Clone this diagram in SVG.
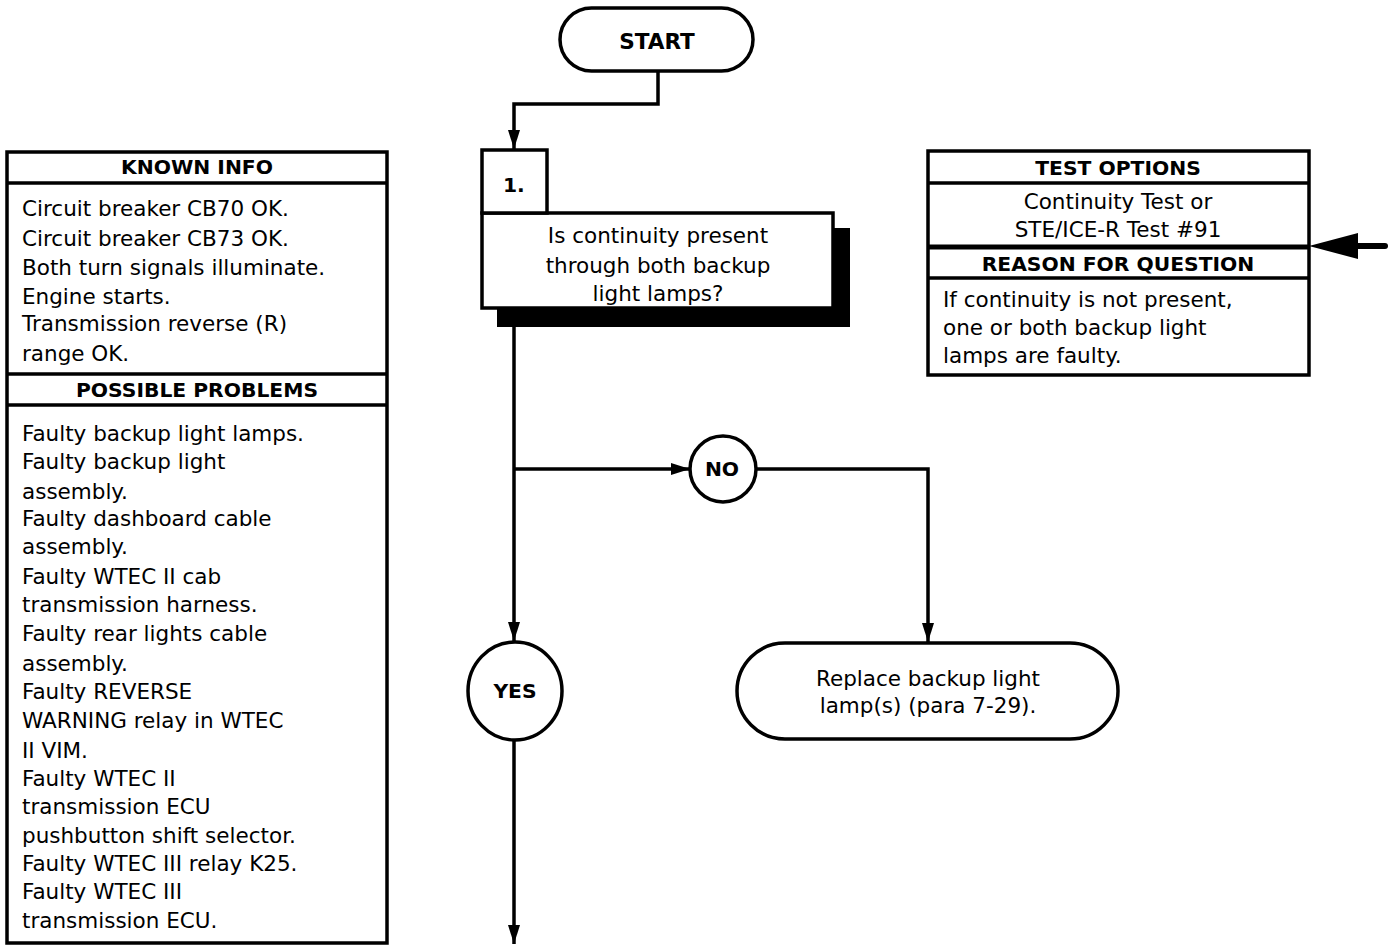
<svg xmlns="http://www.w3.org/2000/svg" width="1397" height="946" viewBox="0 0 1397 946">
<defs>
<style>
.b{fill:#fff;stroke:#000;stroke-width:3.5}
.t{font-family:"DejaVu Sans",Verdana,sans-serif;font-size:21.5px;fill:#000}
.h{font-family:"DejaVu Sans",Verdana,sans-serif;font-size:20.3px;font-weight:bold;fill:#000}
.c{text-anchor:middle}
.ln{fill:none;stroke:#000;stroke-width:3.5}
</style>
<marker id="ar2" viewBox="0 0 19 12" refX="19" refY="6" markerWidth="19" markerHeight="12" markerUnits="userSpaceOnUse" orient="auto"><path d="M0,0 L19,6 L0,12 z" fill="#000"/></marker>
</defs>
<rect width="1397" height="946" fill="#fff"/>
<g id="connectors">
<path class="ln" d="M658,71 V104 H514 V149" marker-end="url(#ar2)"/>
<path class="ln" d="M514,327 V641" marker-end="url(#ar2)"/>
<path class="ln" d="M514,469 H690" marker-end="url(#ar2)"/>
<path class="ln" d="M757,469 H928 V642" marker-end="url(#ar2)"/>
<path class="ln" d="M514,740 V944" marker-end="url(#ar2)"/>
<line x1="1385" y1="246" x2="1350" y2="246" stroke="#000" stroke-width="6" stroke-linecap="round"/>
<path d="M1309,246 L1358,233 L1358,259 z" fill="#000"/>
</g>
<g id="start">
<rect class="b" x="560" y="8" width="193" height="63" rx="31.5"/>
<text class="h c" x="657" y="49" style="font-size:21.6px">START</text>
</g>
<g id="step1">
<rect x="497" y="228" width="353" height="99" fill="#000"/>
<rect class="b" x="482" y="213" width="351" height="95"/>
<rect class="b" x="482" y="150" width="65" height="63"/>
<text class="h" x="503" y="192">1.</text>
<text class="t c" x="658" y="243">Is continuity present</text>
<text class="t c" x="658" y="273">through both backup</text>
<text class="t c" x="658" y="301">light lamps?</text>
</g>
<g id="known">
<rect class="b" x="7" y="152" width="380" height="791"/>
<line class="ln" x1="7" y1="183" x2="387" y2="183"/>
<line class="ln" x1="7" y1="374" x2="387" y2="374"/>
<line class="ln" x1="7" y1="405" x2="387" y2="405"/>
<text class="h c" x="197" y="174">KNOWN INFO</text>
<text class="t" x="22" y="216">Circuit breaker CB70 OK.</text>
<text class="t" x="22" y="246">Circuit breaker CB73 OK.</text>
<text class="t" x="22" y="275">Both turn signals illuminate.</text>
<text class="t" x="22" y="304">Engine starts.</text>
<text class="t" x="22" y="331">Transmission reverse (R)</text>
<text class="t" x="22" y="361">range OK.</text>
<text class="h c" x="197" y="397">POSSIBLE PROBLEMS</text>
<text class="t" x="22" y="441">Faulty backup light lamps.</text>
<text class="t" x="22" y="469">Faulty backup light</text>
<text class="t" x="22" y="499">assembly.</text>
<text class="t" x="22" y="526">Faulty dashboard cable</text>
<text class="t" x="22" y="554">assembly.</text>
<text class="t" x="22" y="584">Faulty WTEC II cab</text>
<text class="t" x="22" y="612">transmission harness.</text>
<text class="t" x="22" y="641">Faulty rear lights cable</text>
<text class="t" x="22" y="671">assembly.</text>
<text class="t" x="22" y="699">Faulty REVERSE</text>
<text class="t" x="22" y="728">WARNING relay in WTEC</text>
<text class="t" x="22" y="758">II VIM.</text>
<text class="t" x="22" y="786">Faulty WTEC II</text>
<text class="t" x="22" y="814">transmission ECU</text>
<text class="t" x="22" y="843">pushbutton shift selector.</text>
<text class="t" x="22" y="871">Faulty WTEC III relay K25.</text>
<text class="t" x="22" y="899">Faulty WTEC III</text>
<text class="t" x="22" y="928">transmission ECU.</text>
</g>
<g id="test">
<rect class="b" x="928" y="151" width="381" height="224"/>
<line class="ln" x1="928" y1="183" x2="1309" y2="183"/>
<line x1="928" y1="247" x2="1309" y2="247" stroke="#000" stroke-width="5"/>
<line class="ln" x1="928" y1="278" x2="1309" y2="278"/>
<text class="h c" x="1118" y="175">TEST OPTIONS</text>
<text class="t c" x="1118" y="209">Continuity Test or</text>
<text class="t c" x="1118" y="237">STE/ICE-R Test #91</text>
<text class="h c" x="1118" y="271">REASON FOR QUESTION</text>
<text class="t" x="943" y="307">If continuity is not present,</text>
<text class="t" x="943" y="335">one or both backup light</text>
<text class="t" x="943" y="363">lamps are faulty.</text>
</g>
<g id="no">
<circle class="b" cx="723" cy="469" r="33"/>
<text class="h c" x="722" y="476">NO</text>
</g>
<g id="yes">
<ellipse class="b" cx="515" cy="691" rx="47" ry="49"/>
<text class="h c" x="515" y="698">YES</text>
</g>
<g id="replace">
<rect class="b" x="737" y="643" width="381" height="96" rx="48"/>
<text class="t c" x="928" y="686">Replace backup light</text>
<text class="t c" x="928" y="713">lamp(s) (para 7-29).</text>
</g>
</svg>
